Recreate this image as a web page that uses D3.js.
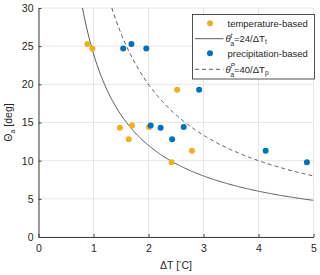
<!DOCTYPE html>
<html>
<head>
<meta charset="utf-8">
<script src="https://cdn.jsdelivr.net/npm/d3@7"></script>
<style>
  body { margin: 0; background: #fff; }
  text { font-family: "Liberation Sans", Arial, sans-serif; fill: #262626; }
</style>
</head>
<body>
<div id="chart"></div>
<script>
"use strict";

// values
var tempX = [0.89, 0.98, 2.52, 1.48, 1.70, 2.01, 1.64, 2.79, 2.42];
var tempY = [25.3, 24.7, 19.3, 14.3, 14.6, 14.4, 12.8, 11.3, 9.8];
var precX = [1.54, 1.69, 1.96, 2.04, 2.22, 2.64, 2.43, 2.92, 4.13, 4.88];
var precY = [24.7, 25.3, 24.7, 14.6, 14.3, 14.4, 12.8, 19.3, 11.3, 9.8];
var xTicks = [0, 1, 2, 3, 4, 5];
var yTicks = [0, 5, 10, 15, 20, 25, 30];
var coefT = 24, coefP = 40;

var W = 320, H = 275;
var margin = { top: 8, right: 6.5, bottom: 38, left: 38.5 };
var width = W - margin.left - margin.right,
    height = H - margin.top - margin.bottom;

var svg = d3.select("#chart").append("svg")
  .attr("width", W).attr("height", H);
var g = svg.append("g")
  .attr("transform", "translate(" + margin.left + "," + margin.top + ")");

var x = d3.scaleLinear().domain([0, 5]).range([0, width]);
var y = d3.scaleLinear().domain([0, 30]).range([height, 0]);

// grid
g.append("g").selectAll("line").data(xTicks).enter().append("line")
  .attr("x1", d => x(d)).attr("x2", d => x(d))
  .attr("y1", 0).attr("y2", height)
  .attr("stroke", "#e6e6e6").attr("stroke-width", 1);
g.append("g").selectAll("line").data(yTicks).enter().append("line")
  .attr("y1", d => y(d)).attr("y2", d => y(d))
  .attr("x1", 0).attr("x2", width)
  .attr("stroke", "#e6e6e6").attr("stroke-width", 1);

// axes (matlab style: ticks inward)
var fmt = d3.format("d");
var xAxis = g.append("g").attr("transform", "translate(0," + height + ")")
  .call(d3.axisBottom(x).tickValues(xTicks).tickFormat(fmt).tickSizeInner(-3).tickSizeOuter(0).tickPadding(8));
var yAxis = g.append("g")
  .call(d3.axisLeft(y).tickValues(yTicks).tickFormat(fmt).tickSizeInner(-3).tickSizeOuter(0).tickPadding(5));
[xAxis, yAxis].forEach(function (a) {
  a.select(".domain").attr("stroke", "#404040");
  a.selectAll(".tick line").attr("stroke", "#404040");
  a.selectAll("text").attr("font-size", 10.5).attr("fill", "#262626")
    .attr("font-family", "Liberation Sans, Arial, sans-serif");
});

// clip region for curves
g.append("clipPath").attr("id", "clip").append("rect")
  .attr("width", width).attr("height", height);

var line = d3.line().x(d => x(d[0])).y(d => y(d[1]));
function curve(c) {
  return d3.range(c / 30, 5.0001, 0.02).map(v => [v, c / v]);
}
g.append("path").datum(curve(coefT)).attr("d", line)
  .attr("clip-path", "url(#clip)")
  .attr("fill", "none").attr("stroke", "#5a5a5a").attr("stroke-width", 1);
g.append("path").datum(curve(coefP)).attr("d", line)
  .attr("clip-path", "url(#clip)")
  .attr("fill", "none").attr("stroke", "#5a5a5a").attr("stroke-width", 1)
  .attr("stroke-dasharray", "4,3");

// points
var orange = "#EDB120", blue = "#0072BD";
g.append("g").selectAll("circle").data(tempX).enter().append("circle")
  .attr("cx", d => x(d)).attr("cy", (d, i) => y(tempY[i]))
  .attr("r", 3).attr("fill", orange);
g.append("g").selectAll("circle").data(precX).enter().append("circle")
  .attr("cx", d => x(d)).attr("cy", (d, i) => y(precY[i]))
  .attr("r", 3).attr("fill", blue);

// axis labels
svg.append("text").attr("x", margin.left + width / 2).attr("y", 269)
  .attr("text-anchor", "middle").attr("font-size", 10.5)
  .html('ΔT [<tspan font-size="6" dy="-4">°</tspan><tspan dy="4">C]</tspan>');
svg.append("text")
  .attr("transform", "translate(12," + (margin.top + height / 2) + ") rotate(-90)")
  .attr("text-anchor", "middle").attr("font-size", 10.5)
  .html('Θ<tspan font-size="7" dy="3">a</tspan><tspan dy="-3"> [deg]</tspan>');

// legend
var leg = svg.append("g").attr("transform", "translate(192.5,14.5)");
leg.append("rect").attr("width", 122).attr("height", 64.5)
  .attr("fill", "#fff").attr("stroke", "#262626").attr("stroke-width", 0.8);
var rows = [8.8, 24.2, 38.8, 54.8];
leg.append("circle").attr("cx", 17.5).attr("cy", rows[0]).attr("r", 3).attr("fill", orange);
leg.append("circle").attr("cx", 17.5).attr("cy", rows[2]).attr("r", 3).attr("fill", blue);
leg.append("line").attr("x1", 2.5).attr("x2", 31).attr("y1", rows[1]).attr("y2", rows[1])
  .attr("stroke", "#5a5a5a");
leg.append("line").attr("x1", 2.5).attr("x2", 31).attr("y1", rows[3]).attr("y2", rows[3])
  .attr("stroke", "#5a5a5a").attr("stroke-dasharray", "4,3");
leg.append("text").attr("x", 35).attr("y", rows[0]).attr("dy", "0.35em")
  .attr("font-size", 9.5).text("temperature-based");
leg.append("text").attr("x", 35).attr("y", rows[2]).attr("dy", "0.35em")
  .attr("font-size", 9.5).text("precipitation-based");

function mathLabel(yy, sup, coef, sub) {
  var t = leg.append("g").attr("transform", "translate(33," + yy + ")");
  t.append("text").attr("x", 0).attr("y", 3.2).attr("font-size", 9.5)
    .attr("font-style", "italic").attr("font-family", "Liberation Serif, serif").text("θ");
  t.append("text").attr("x", 5).attr("y", -1).attr("font-size", 6.5)
    .attr("font-style", "italic").attr("font-family", "Liberation Serif, serif").text(sup);
  t.append("text").attr("x", 5).attr("y", 7.5).attr("font-size", 6.5).text("a");
  t.append("text").attr("x", 8.5).attr("y", 3.2).attr("font-size", 9.5)
    .html("=" + coef + "/ΔT<tspan font-size='6.5' dy='2.5'>" + sub + "</tspan>");
}
mathLabel(rows[1], "t", coefT, "t");
mathLabel(rows[3], "P", coefP, "p");
</script>
</body>
</html>
